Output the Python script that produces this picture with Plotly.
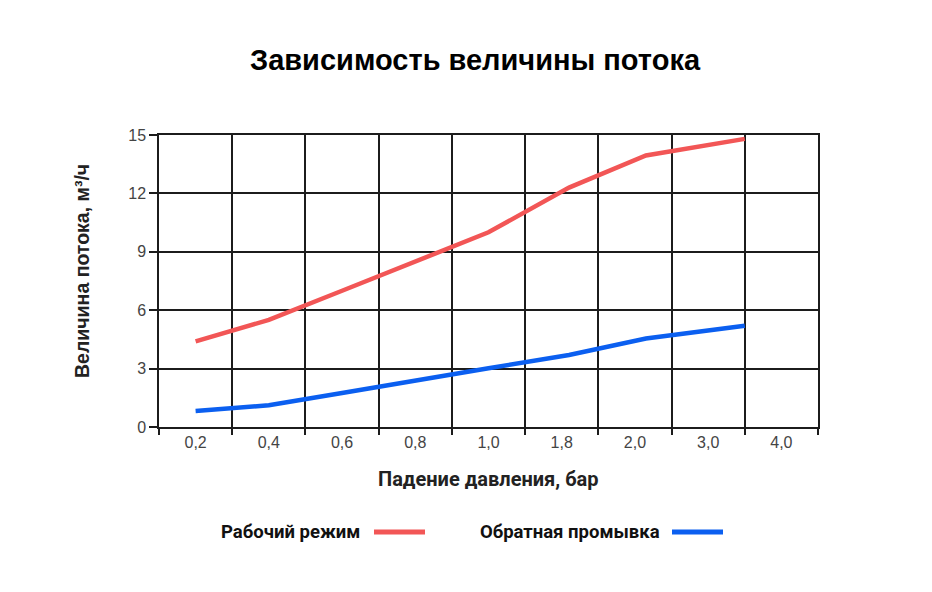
import plotly.graph_objects as go

# ---- data ----
x_labels = ["0,2", "0,4", "0,6", "0,8", "1,0", "1,8", "2,0", "3,0", "4,0"]
x_pos = [0, 1, 2, 3, 4, 5.1, 6.15, 7.5]          # positions along the category scale
work_mode = [4.4, 5.5, 7.0, 8.5, 10.0, 12.3, 13.95, 14.8]
backwash = [0.82, 1.12, 1.75, 2.4, 3.02, 3.7, 4.55, 5.2]
series_names = ["Рабочий режим", "Обратная промывка"]
y_ticks = [0, 3, 6, 9, 12, 15]

RED = "#f25656"
BLUE = "#0b5ff0"
GRID = "#1c1c1c"

fig = go.Figure()
fig.add_trace(go.Scatter(x=x_pos, y=work_mode, mode="lines", name=series_names[0],
                         line=dict(color=RED, width=4.5), showlegend=False))
fig.add_trace(go.Scatter(x=x_pos, y=backwash, mode="lines", name=series_names[1],
                         line=dict(color=BLUE, width=4.5), showlegend=False))

n = len(x_labels)
fig.update_xaxes(
    range=[-0.5, n - 0.5],
    tickmode="array", tickvals=list(range(n)), ticktext=x_labels,
    ticks="", showgrid=False, zeroline=False,
    showline=True, linecolor=GRID, linewidth=1.5, mirror=True,
    tickfont=dict(family="Liberation Sans, Arial", size=16, color="#444"),
    minor=dict(tickmode="array", tickvals=[i - 0.5 for i in range(n + 1)],
               showgrid=True, gridcolor=GRID, gridwidth=1.5,
               ticks="outside", ticklen=6, tickcolor=GRID, tickwidth=1.5),
)
fig.update_yaxes(
    range=[0, 15], tickmode="array", tickvals=y_ticks,
    showgrid=True, gridcolor=GRID, gridwidth=1.5, zeroline=False,
    showline=True, linecolor=GRID, linewidth=1.5, mirror=True,
    ticks="outside", ticklen=8, tickcolor=GRID, tickwidth=1.5,
    tickfont=dict(family="Liberation Sans, Arial", size=16, color="#444"),
)

annotations = [
    dict(text="<b>Зависимость величины потока</b>", xref="paper", yref="paper",
         x=0.5, xshift=-13, y=1.0, yshift=75, xanchor="center", yanchor="middle", showarrow=False,
         font=dict(family="Liberation Sans, Arial", size=29, color="#000")),
    dict(text="<b>Величина потока, м³/ч</b>", xref="paper", yref="paper",
         x=0, xshift=-77, y=0.5, yshift=10, textangle=-90, xanchor="center", yanchor="middle",
         showarrow=False, font=dict(family="Liberation Sans, Arial", size=19.5, color="#222")),
    dict(text="<b>Падение давления, бар</b>", xref="paper", yref="paper",
         x=0.5, y=0, yshift=-52, xanchor="center", yanchor="middle", showarrow=False,
         font=dict(family="Roboto", size=20, color="#222")),
]

# custom legend (text then line sample)
legend_items = [(series_names[0], RED, 219, 374), (series_names[1], BLUE, 478, 672)]
W, H = 932, 592
ml, mr, mt, mb = 159, 114, 135, 165
pw, ph = W - ml - mr, H - mt - mb
shapes = []
ly = 532
for name, col, tx, lx in legend_items:
    annotations.append(dict(text="<b>" + name + "</b>", xref="paper", yref="paper",
                            x=(tx - ml) / pw, y=(H - mb - ly) / ph, xanchor="left", yanchor="middle",
                            showarrow=False, font=dict(family="Roboto", size=18.5, color="#111")))
    shapes.append(dict(type="line", xref="paper", yref="paper",
                       x0=(lx - ml) / pw, x1=(lx + 51 - ml) / pw,
                       y0=(H - mb - ly) / ph, y1=(H - mb - ly) / ph,
                       line=dict(color=col, width=5)))

fig.update_layout(
    width=W, height=H, margin=dict(l=ml, r=mr, t=mt, b=mb),
    paper_bgcolor="white", plot_bgcolor="white",
    annotations=annotations, shapes=shapes, showlegend=False,
)
fig.write_html("out.html")
